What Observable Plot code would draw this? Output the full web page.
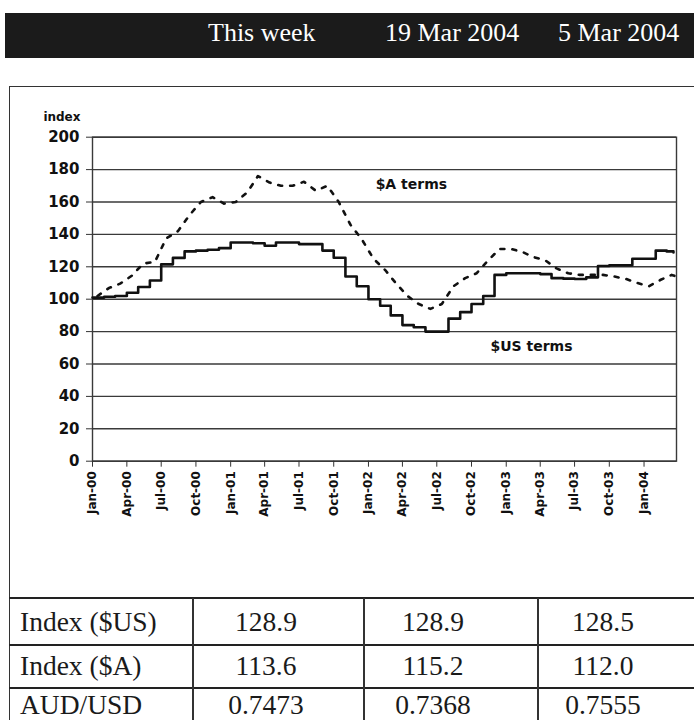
<!DOCTYPE html>
<html>
<head>
<meta charset="utf-8">
<script src="https://cdn.jsdelivr.net/npm/d3@7"></script>
<script src="https://cdn.jsdelivr.net/npm/@observablehq/plot@0.6"></script>
<style>
  html, body { margin: 0; padding: 0; background: #fff; }
  #page { position: relative; width: 694px; height: 720px; overflow: hidden; background: #fff; }
  .bar { position: absolute; left: 5px; top: 13px; width: 689px; height: 45px; background: #1b1b1b; }
  .hd { position: absolute; top: 20px; font-family: "Liberation Serif", "Times New Roman", serif; font-size: 26px; line-height: 26px; color: #fff; white-space: nowrap; }
  .box { position: absolute; left: 9px; top: 86px; width: 720px; height: 700px; border: 1.5px solid #333; box-sizing: border-box; }
  .hl { position: absolute; left: 9px; width: 690px; height: 2px; background: #222; }
  .vl { position: absolute; top: 598px; width: 1.5px; height: 130px; background: #333; }
  .cell { position: absolute; font-family: "Liberation Serif", "Times New Roman", serif; font-size: 27.5px; line-height: 28px; color: #1a1a1a; white-space: nowrap; }
  #chart { position: absolute; left: 0; top: 90px; }
  #chart svg { font-family: "DejaVu Sans", sans-serif; font-weight: bold; }
</style>
</head>
<body>
<div id="page">
  <div class="bar"></div>
  <div class="box"></div>
  <div id="chart"></div>
</div>
<script>
// ---- data ----
const headerCols = ["This week", "19 Mar 2004", "5 Mar 2004"];
const rowLabels = ["Index ($US)", "Index ($A)", "AUD/USD"];
const rowValues = [
  ["128.9", "128.9", "128.5"],
  ["113.6", "115.2", "112.0"],
  ["0.7473", "0.7368", "0.7555"]
];

const dates = [
  "2000-01-01","2000-02-01","2000-03-01","2000-04-01","2000-05-01","2000-06-01",
  "2000-07-01","2000-08-01","2000-09-01","2000-10-01","2000-11-01","2000-12-01",
  "2001-01-01","2001-02-01","2001-03-01","2001-04-01","2001-05-01","2001-06-01",
  "2001-07-01","2001-08-01","2001-09-01","2001-10-01","2001-11-01","2001-12-01",
  "2002-01-01","2002-02-01","2002-03-01","2002-04-01","2002-05-01","2002-06-01",
  "2002-07-01","2002-08-01","2002-09-01","2002-10-01","2002-11-01","2002-12-01",
  "2003-01-01","2003-02-01","2003-03-01","2003-04-01","2003-05-01","2003-06-01",
  "2003-07-01","2003-08-01","2003-09-01","2003-10-01","2003-11-01","2003-12-01",
  "2004-01-01","2004-02-01","2004-03-01","2004-03-19"
];
const usTerms = [
  101, 101.5, 102, 104, 107.5, 111.5,
  121.5, 125.5, 129.5, 130, 130.5, 131.5,
  135, 135, 134.5, 133, 135, 135,
  134, 134, 130, 125.6, 114, 108,
  100, 96, 90, 84, 82.7, 80,
  80, 88, 92, 97, 102, 115,
  116, 116, 116, 115.5, 113, 112.7,
  112.5, 113.5, 120.5, 121, 121, 125,
  125, 130, 129.5, 128.9
];
const aTerms = [
  102, 107, 109.6, 114.5, 122, 123,
  137.5, 142, 152, 160, 163, 159,
  160, 166, 176, 172, 170, 170,
  172.5, 167, 170, 160, 146, 137,
  125, 118, 110, 102, 97, 94,
  97, 108, 113, 116, 124, 131,
  131, 129, 126, 124, 119, 116,
  115, 115, 115, 114, 112.5, 110,
  108, 112, 115, 113.6
];
const xTickDates = [
  "2000-01-01","2000-04-01","2000-07-01","2000-10-01",
  "2001-01-01","2001-04-01","2001-07-01","2001-10-01",
  "2002-01-01","2002-04-01","2002-07-01","2002-10-01",
  "2003-01-01","2003-04-01","2003-07-01","2003-10-01",
  "2004-01-01"
];
const yTicks = [0, 20, 40, 60, 80, 100, 120, 140, 160, 180, 200];
const xDomain = ["2000-01-01", "2004-03-27"];
const yLabel = "index";
const labelTexts = ["$A terms", "$US terms"];
const labelDates = ["2002-01-20", "2002-11-20"];
const labelValues = [171, 70.8];

// ---- page text ----
const page = document.getElementById("page");
const hdLeft = [208, 385, 558];
headerCols.forEach((t, i) => {
  const s = document.createElement("div");
  s.className = "hd"; s.style.left = hdLeft[i] + "px"; s.textContent = t;
  page.appendChild(s);
});
[598, 645, 688].forEach(y => {
  const d = document.createElement("div"); d.className = "hl"; d.style.top = (y - 1) + "px"; page.appendChild(d);
});
[192, 363, 537].forEach(x => {
  const d = document.createElement("div"); d.className = "vl"; d.style.left = x + "px"; page.appendChild(d);
});
const rowMid = [622, 666, 705];
const colMid = [266, 433, 603];
rowLabels.forEach((lab, r) => {
  const c = document.createElement("div");
  c.className = "cell"; c.style.left = "20px"; c.style.top = (rowMid[r] - 14) + "px"; c.textContent = lab;
  page.appendChild(c);
  rowValues[r].forEach((v, k) => {
    const e = document.createElement("div");
    e.className = "cell"; e.style.left = (colMid[k] - 60) + "px"; e.style.width = "120px"; e.style.textAlign = "center";
    e.style.top = (rowMid[r] - 14) + "px"; e.textContent = v;
    page.appendChild(e);
  });
});

// ---- chart ----
const parse = d3.utcParse("%Y-%m-%d");
const series = dates.map((d, i) => ({date: parse(d), us: usTerms[i], a: aTerms[i]}));
const labels = labelTexts.map((t, i) => ({text: t, date: parse(labelDates[i]), value: labelValues[i]}));
const fmt = d3.utcFormat("%b-%y");

const chart = Plot.plot({
  width: 694,
  height: 432,
  marginLeft: 92,
  marginRight: 18,
  marginTop: 46.7,
  marginBottom: 61.3,
  x: {type: "utc", domain: xDomain.map(parse), label: null},
  y: {domain: [0, 200], label: null},
  marks: [
    Plot.ruleY(yTicks, {stroke: "#3a3a3a", strokeWidth: 1.4}),
    Plot.frame({stroke: "#3a3a3a", strokeWidth: 1.4}),
    Plot.axisY({ticks: yTicks, tickSize: 6, tickPadding: 7, fontSize: 15, fontWeight: "bold", fill: "#111", stroke: "#333", label: null}),
    Plot.axisX({ticks: xTickDates.map(parse), tickFormat: fmt, tickRotate: -90, tickSize: 6, tickPadding: 4, fontSize: 12, fontWeight: "bold", fill: "#111", stroke: "#333", label: null}),
    Plot.text([yLabel], {frameAnchor: "top-left", text: d => d, dx: -12, dy: -16, lineAnchor: "bottom", textAnchor: "end", fontSize: 12, fontWeight: "bold", fill: "#111"}),
    Plot.line(series, {x: "date", y: "a", curve: "linear", dx: 5, stroke: "#111", strokeWidth: 2.6, strokeDasharray: "4,8"}),
    Plot.line(series, {x: "date", y: "us", curve: "step-after", stroke: "#111", strokeWidth: 2.6}),
    Plot.text(labels, {x: "date", y: "value", text: "text", textAnchor: "start", fontSize: 14, fontWeight: "bold", fill: "#111"})
  ]
});
document.getElementById("chart").appendChild(chart);
</script>
</body>
</html>
